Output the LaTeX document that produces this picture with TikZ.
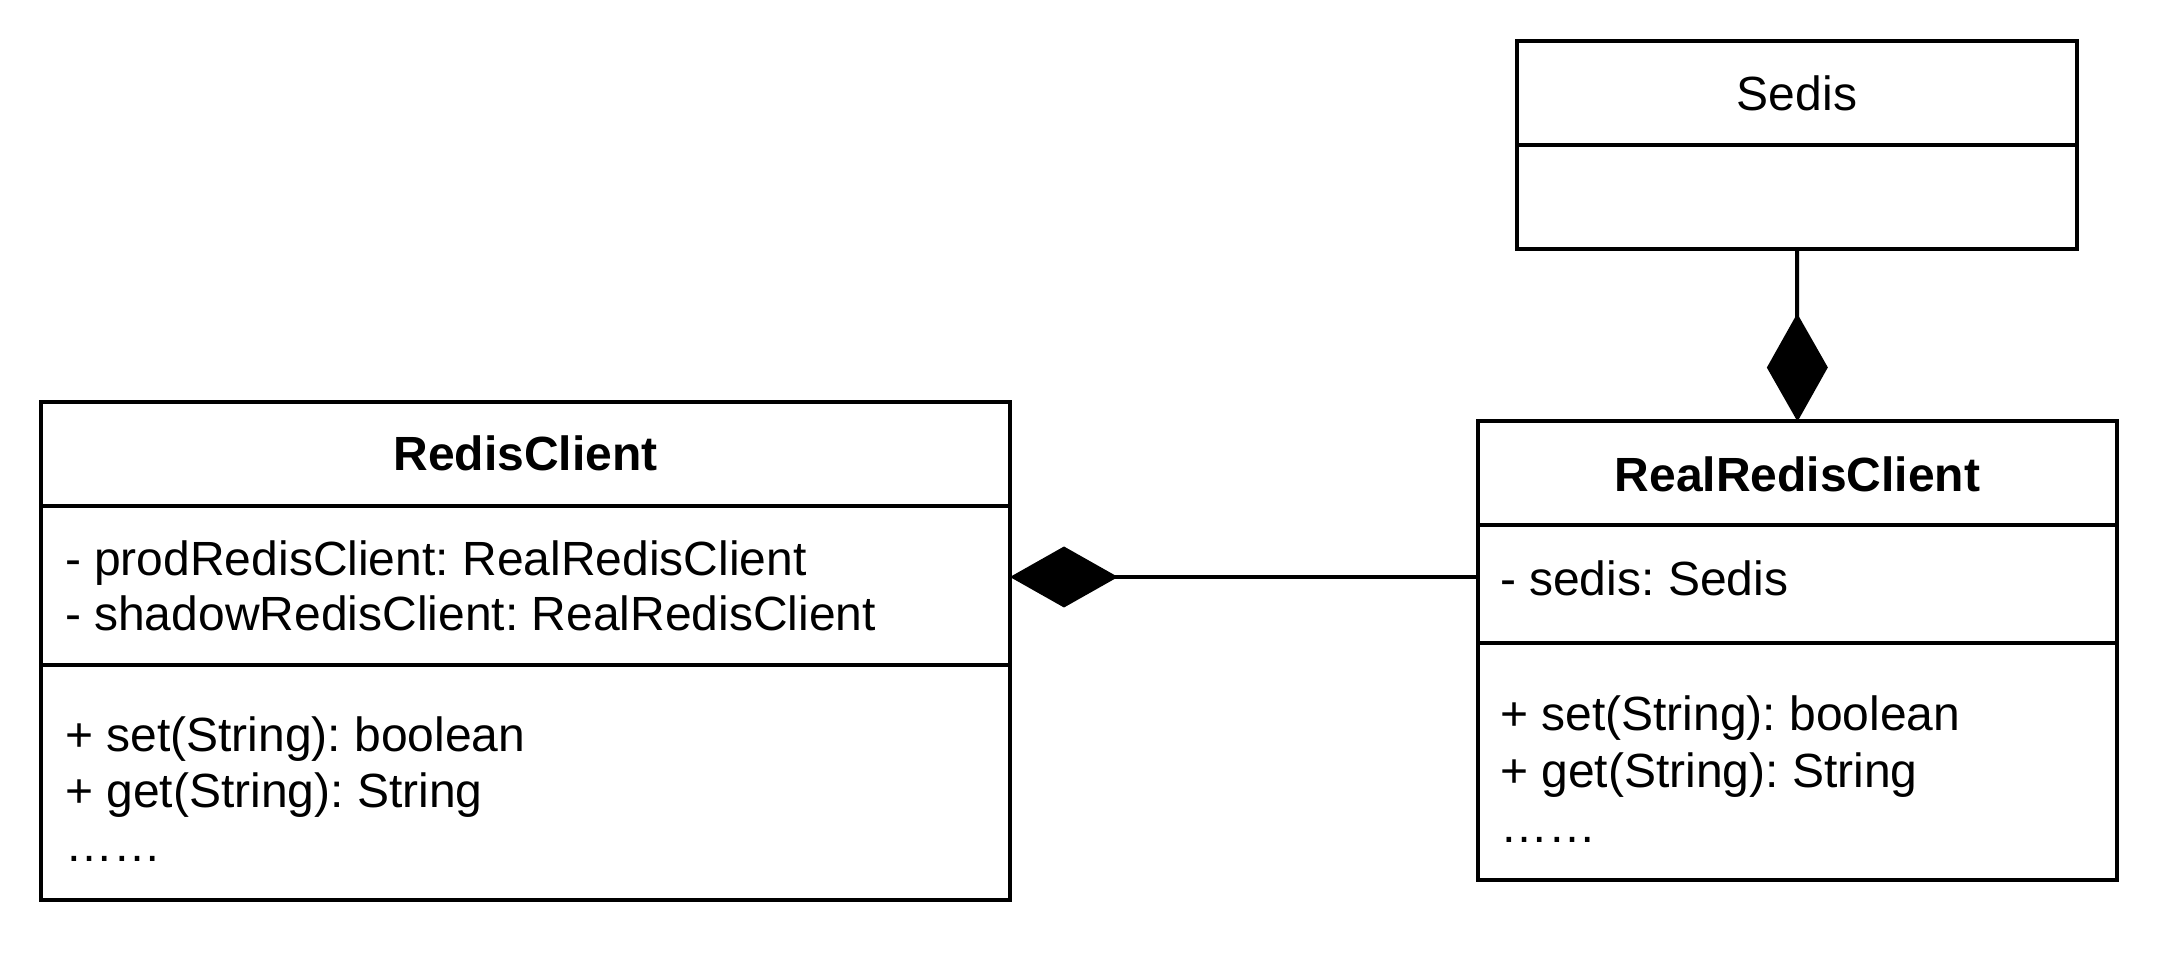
\documentclass[tikz,border=0pt]{standalone}
\usepackage{fontspec}
\setmainfont{Liberation Sans}
\usetikzlibrary{arrows.meta}
\frenchspacing
\begin{document}
\begin{tikzpicture}[x=0.5pt,y=-0.5pt,
  box/.style={draw, line width=2pt, outer sep=0pt, inner sep=0pt, anchor=north west},
  sepline/.style={line width=2pt},
  txt/.style={inner sep=0pt, outer sep=0pt, anchor=base west, font=\fontsize{24}{28.8}\selectfont},
  ttl/.style={inner sep=0pt, outer sep=0pt, anchor=base, font=\fontsize{24}{28.8}\selectfont\bfseries},
  comp/.style={line width=2pt, -{Diamond[length=54pt,width=30.5pt]}}
]
\useasboundingbox (0,0) rectangle (2160,956);
\fill[white] (0,0) rectangle (2160,956);

% Sedis
\node[box, minimum width=280pt, minimum height=104pt] (sedis) at (1517,41) {};
\draw[sepline] (sedis.north west |- 0,145) -- (sedis.north east |- 0,145);
\node[inner sep=0pt, anchor=base, font=\fontsize{24}{28.8}\selectfont] (sedist) at (1797,111) {Sedis};

% RealRedisClient
\node[box, minimum width=319.5pt, minimum height=229.25pt] (rrc) at (1478,421.5) {};
\draw[sepline] (rrc.north west |- 0,525) -- (rrc.north east |- 0,525);
\draw[sepline] (rrc.north west |- 0,643) -- (rrc.north east |- 0,643);
\node[ttl] (rrct) at (1797.5,492) {RealRedisClient};
\node[txt] (rrca) at (1500,596) {- sedis: Sedis};
\node[txt] (rrcm1) at (1500,731) {+ set(String): boolean};
\node[txt] (rrcm2) at (1500,788) {+ get(String): String};
\node[txt] (rrcm3) at (1500,843) {……};

% RedisClient
\node[box, minimum width=484.5pt, minimum height=249pt] (rc) at (41,402) {};
\draw[sepline] (rc.north west |- 0,506) -- (rc.north east |- 0,506);
\draw[sepline] (rc.north west |- 0,665) -- (rc.north east |- 0,665);
\node[ttl] (rct) at (525.5,471) {RedisClient};
\node[txt] (rca1) at (65,576) {- prodRedisClient: RealRedisClient};
\node[txt] (rca2) at (65,631) {- shadowRedisClient: RealRedisClient};
\node[txt] (rcm1) at (65,752) {+ set(String): boolean};
\node[txt] (rcm2) at (65,808) {+ get(String): String};
\node[txt] (rcm3) at (65,862) {……};

% connectors
\coordinate (hy) at (0,577);
\draw[comp] (rrc.west |- hy) -- (rc.east |- hy);
\draw[comp] (sedis.south) -- (rrc.north);
\end{tikzpicture}
\end{document}
